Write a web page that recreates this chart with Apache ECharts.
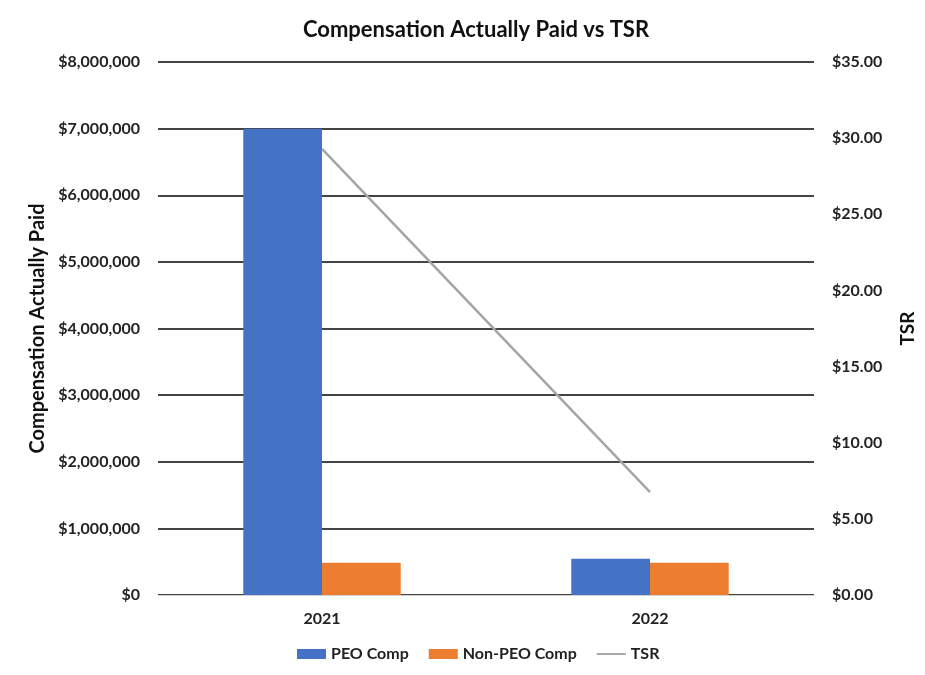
<!DOCTYPE html>
<html><head><meta charset="utf-8">
<script src="https://cdn.jsdelivr.net/npm/echarts@6/dist/echarts.min.js"></script>
<style>html,body{margin:0;padding:0;background:#fff}#c{width:925px;height:675px}</style>
</head><body><div id="c"></div>
<script>
const categories = ['2021', '2022'];
const peoComp = [7000000, 545000];
const nonPeoComp = [485000, 485000];
const tsr = [29.3, 6.75];

const F = 'Lato, "Open Sans", sans-serif';
const chart = echarts.init(document.getElementById('c'));
chart.setOption({
  animation: false,
  title: {text: 'Compensation Actually Paid vs TSR', left: 471, textAlign: 'center', top: 14,
    textStyle: {fontFamily: F, fontSize: 22, fontWeight: 'bold', color: '#111'}},
  grid: {left: 158, right: 110, top: 62, bottom: 80},
  legend: {bottom: 8, left: 292, itemGap: 20, itemWidth: 29, itemHeight: 10,
    textStyle: {fontFamily: F, fontSize: 16, fontWeight: 'bold', color: '#222'},
    data: [{name: 'PEO Comp', icon: 'rect'}, {name: 'Non-PEO Comp', icon: 'rect'},
           {name: 'TSR', icon: 'path://M0,4 L30,4 L30,6 L0,6 Z'}]},
  xAxis: {type: 'category', data: categories,
    axisLine: {lineStyle: {color: '#d0d0d0', width: 1}}, axisTick: {show: false},
    axisLabel: {fontFamily: F, fontSize: 16, fontWeight: 'bold', color: '#222', margin: 16}},
  yAxis: [
    {type: 'value', min: 0, max: 8000000, interval: 1000000,
     name: 'Compensation Actually Paid', nameLocation: 'middle', nameGap: 110, nameRotate: 90,
     nameTextStyle: {fontFamily: F, fontSize: 20, fontWeight: 'bold', color: '#111'},
     axisLine: {show: false}, axisTick: {show: false},
     splitLine: {lineStyle: {color: '#444', width: 2}},
     axisLabel: {fontFamily: F, fontSize: 16, fontWeight: 'bold', color: '#222', margin: 18,
       formatter: v => '$' + v.toLocaleString('en-US')}},
    {type: 'value', min: 0, max: 35, interval: 5,
     name: 'TSR', nameLocation: 'middle', nameGap: 84, nameRotate: 90,
     nameTextStyle: {fontFamily: F, fontSize: 19, fontWeight: 'bold', color: '#111'},
     axisLine: {show: false}, axisTick: {show: false}, splitLine: {show: false},
     axisLabel: {fontFamily: F, fontSize: 16, fontWeight: 'bold', color: '#222', margin: 18,
       formatter: v => '$' + v.toFixed(2)}}
  ],
  series: [
    {name: 'PEO Comp', type: 'bar', data: peoComp, barGap: '0%', barCategoryGap: '52%',
     itemStyle: {color: '#4472C4'}},
    {name: 'Non-PEO Comp', type: 'bar', data: nonPeoComp, itemStyle: {color: '#ED7D31'}},
    {name: 'TSR', type: 'line', yAxisIndex: 1, data: tsr, symbol: 'none',
     lineStyle: {color: '#A5A5A5', width: 2.5}, itemStyle: {color: '#A5A5A5'}}
  ]
});
</script></body></html>
